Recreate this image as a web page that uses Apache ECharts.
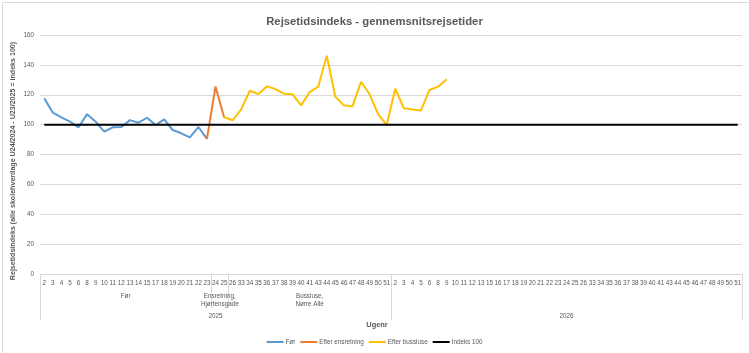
<!DOCTYPE html>
<html>
<head>
<meta charset="utf-8">
<script src="https://cdn.jsdelivr.net/npm/echarts@6/dist/echarts.min.js"></script>
<style>
html,body{margin:0;padding:0;background:#fff;}
#chart{width:749px;height:353px;}
</style>
</head>
<body>
<div id="chart"></div>
<script>
// ---- Data ----
const weeks2025 = ['2','3','4','5','6','8','9','10','11','12','13','14','15','17','18','19','20','21','22','23','24','25','26','33','34','35','36','37','38','39','40','41','43','44','45','46','47','48','49','50','51'];
const weeks2026 = ['2','3','4','5','6','8','9','10','11','12','13','15','16','17','18','19','20','21','22','23','24','25','26','33','34','35','36','37','38','39','40','41','43','44','45','46','47','48','49','50','51'];
const categories = weeks2025.concat(weeks2026);

// Før: 2025 weeks 2..23
const foerValues = [117.6,108,104.9,102,98.2,107,102,95.3,98.2,98.4,103,101.3,104.6,99.7,103.5,96.4,94.2,91.5,98.4,90.5];
// Efter ensretning: 2025 weeks 23..25
const ensretningStart = 19;
const ensretningValues = [90.5,125.5,105];
// Efter bussluse: 2025 week 25 .. 2026 week 9
const busslusStart = 21;
const busslusValues = [105,102.9,110.2,122.7,120.5,125.6,123.8,120.7,120.3,112.9,121.8,125.4,146.1,118.7,112.9,112.2,128.7,120.3,107.1,99.7,124,110.9,110.2,109.5,123.2,125.4,130.3];
const indexLevel = 100;

// Multi-level axis groups
const groupSeparators = [19.5, 21.5];
const groupLabels = [
  {pos: 9.5, text: 'Før'},
  {pos: 20.5, text: 'Ensretning,\nHjørtensgade'},
  {pos: 31, text: 'Bussluse,\nNørre Allé'}
];
const yearSeparators = [-0.5, 40.5, 81.5];
const yearLabels = [
  {pos: 20, text: '2025'},
  {pos: 61, text: '2026'}
];

function pad(values, start) {
  const arr = categories.map(() => null);
  values.forEach((v, i) => { arr[start + i] = v; });
  return arr;
}

const FONT = "'Liberation Sans', Arial, sans-serif";
const GREY = '#595959';
const SMALL = 6.3;

const chart = echarts.init(document.getElementById('chart'), null, {renderer: 'canvas'});
const nCat = categories.length;

function labelFor(list, v) {
  for (const g of list) { if (Math.abs(g.pos - v) < 0.01) return g.text; }
  return '';
}

const option = {
  backgroundColor: '#fff',
  animation: false,
  textStyle: {fontFamily: FONT},
  title: {
    text: 'Rejsetidsindeks - gennemsnitsrejsetider',
    left: 'center',
    top: 11,
    textStyle: {fontFamily: FONT, fontSize: 11.3, fontWeight: 'bold', color: GREY}
  },
  grid: {left: 40, right: 7, top: 35, bottom: 79, containLabel: false},
  legend: {
    bottom: 3,
    left: 'center',
    icon: 'rect',
    itemWidth: 17,
    itemHeight: 2,
    itemGap: 5,
    textStyle: {fontFamily: FONT, fontSize: SMALL, color: GREY, padding: [0,0,0,-3]},
    data: ['Før', 'Efter ensretning', 'Efter bussluse', 'Indeks 100']
  },
  xAxis: [
    {
      type: 'category',
      data: categories,
      boundaryGap: true,
      axisLine: {show: true, lineStyle: {color: '#d9d9d9', width: 1}},
      axisTick: {show: false},
      axisLabel: {interval: 0, fontSize: SMALL, color: GREY, margin: 6, fontFamily: FONT},
      splitLine: {show: false}
    },
    {
      type: 'value',
      min: -0.5,
      max: nCat - 0.5,
      position: 'bottom',
      axisLine: {show: false},
      splitLine: {show: false},
      axisTick: {show: true, inside: false, length: 34, customValues: groupSeparators, lineStyle: {color: '#d9d9d9'}},
      axisLabel: {
        show: true, customValues: groupLabels.map(g => g.pos), margin: 18,
        verticalAlign: 'top', lineHeight: 8.5, fontSize: SMALL, color: GREY, fontFamily: FONT,
        hideOverlap: false,
        formatter: v => labelFor(groupLabels, v)
      }
    },
    {
      type: 'value',
      min: -0.5,
      max: nCat - 0.5,
      position: 'bottom',
      axisLine: {show: false},
      splitLine: {show: false},
      axisTick: {show: true, inside: false, length: 46, customValues: yearSeparators, lineStyle: {color: '#d9d9d9'}},
      axisLabel: {
        show: true, customValues: yearLabels.map(g => g.pos), margin: 39,
        verticalAlign: 'top', fontSize: SMALL, color: GREY, fontFamily: FONT,
        hideOverlap: false, showMinLabel: true, showMaxLabel: true,
        formatter: v => labelFor(yearLabels, v)
      }
    }
  ],
  yAxis: {
    type: 'value',
    min: 0,
    max: 160,
    interval: 20,
    axisLine: {show: false},
    axisTick: {show: false},
    axisLabel: {fontSize: SMALL, color: GREY, margin: 6, fontFamily: FONT},
    splitLine: {lineStyle: {color: '#d9d9d9', width: 1}}
  },
  graphic: [
    {type: 'rect', left: 0, top: 0, shape: {width: 748, height: 352}, style: {fill: 'none', stroke: '#d9d9d9', lineWidth: 1}, silent: true},
    {type: 'text', x: 13, y: 161, rotation: Math.PI / 2,
      style: {text: 'Rejsetidsindeks (alle skolehverdage U24/2024 - U23/2025 = indeks 100)', fontFamily: FONT, fontSize: 7.1, fontWeight: 'bold', fill: GREY, align: 'center', verticalAlign: 'middle'}},
    {type: 'text', x: 377, y: 325,
      style: {text: 'Ugenr', fontFamily: FONT, fontSize: 7.4, fontWeight: 'bold', fill: GREY, align: 'center', verticalAlign: 'middle'}}
  ],
  series: [
    {name: 'Før', type: 'line', data: pad(foerValues, 0), showSymbol: false, symbol: 'none', connectNulls: false,
      lineStyle: {color: '#5B9BD5', width: 2}, itemStyle: {color: '#5B9BD5'}},
    {name: 'Efter ensretning', type: 'line', data: pad(ensretningValues, ensretningStart), showSymbol: false, symbol: 'none',
      lineStyle: {color: '#ED7D31', width: 2}, itemStyle: {color: '#ED7D31'}},
    {name: 'Efter bussluse', type: 'line', data: pad(busslusValues, busslusStart), showSymbol: false, symbol: 'none',
      lineStyle: {color: '#FFC000', width: 2}, itemStyle: {color: '#FFC000'}},
    {name: 'Indeks 100', type: 'line', data: categories.map(() => indexLevel), showSymbol: false, symbol: 'none',
      lineStyle: {color: '#000000', width: 2}, itemStyle: {color: '#000000'}}
  ]
};
chart.setOption(option);
</script>
</body>
</html>
